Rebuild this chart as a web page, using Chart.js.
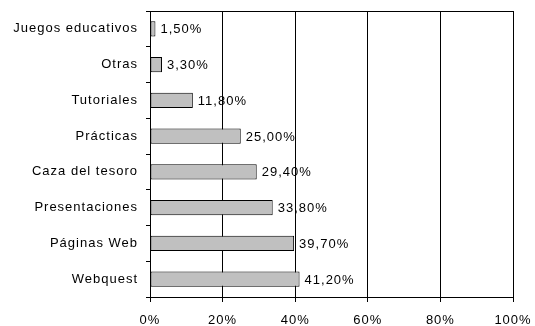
<!DOCTYPE html>
<html>
<head>
<meta charset="utf-8">
<script src="https://cdn.jsdelivr.net/npm/chart.js@4"></script>
<style>
html,body{margin:0;padding:0;background:#fff;}
#wrap{width:535px;height:326px;}
</style>
</head>
<body>
<div id="wrap"><canvas id="c" width="535" height="326"></canvas></div>
<script>
const categories = ["Juegos educativos","Otras","Tutoriales","Prácticas","Caza del tesoro","Presentaciones","Páginas Web","Webquest"];
const values = [1.5, 3.3, 11.8, 25.0, 29.4, 33.8, 39.7, 41.2];
const xTicks = [0, 20, 40, 60, 80, 100];

const FONT = "'Liberation Sans', Arial, sans-serif";

const spacingPlugin = {
  id: 'spacing',
  beforeDraw(chart) {
    const ctx = chart.ctx;
    ctx.letterSpacing = '1px';
    const meta = chart.getDatasetMeta(0);
    ctx.save();
    ctx.letterSpacing = '1px';
    ctx.fillStyle = '#000';
    ctx.font = '13px ' + FONT;
    ctx.textAlign = 'left';
    ctx.textBaseline = 'middle';
    meta.data.forEach((el, i) => {
      const txt = values[i].toFixed(2).replace('.', ',') + '%';
      ctx.fillText(txt, el.x + 5, el.y + 1);
    });
    ctx.restore();
  },
  afterDraw(chart) {
    const a = chart.chartArea;
    const ctx = chart.ctx;
    ctx.save();
    ctx.strokeStyle = '#000';
    ctx.lineWidth = 1;
    ctx.beginPath();
    ctx.moveTo(Math.round(a.left) + 0.5, Math.round(a.top) + 0.5);
    ctx.lineTo(Math.round(a.right) + 0.5, Math.round(a.top) + 0.5);
    ctx.stroke();
    ctx.restore();
  }
};

new Chart(document.getElementById('c'), {
  type: 'bar',
  data: {
    labels: categories,
    datasets: [{
      data: values,
      backgroundColor: '#c0c0c0',
      borderColor: '#000',
      borderWidth: 1,
      borderSkipped: false,
      barPercentage: 0.43,
      categoryPercentage: 1.0
    }]
  },
  options: {
    indexAxis: 'y',
    responsive: false,
    animation: false,
    devicePixelRatio: 1,
    layout: { padding: { top: 11, right: 22, left: 0, bottom: 0 } },
    plugins: { legend: { display: false }, tooltip: { enabled: false } },
    scales: {
      x: {
        type: 'linear',
        min: 0, max: 100,
        afterBuildTicks(scale) { scale.ticks = xTicks.map(v => ({ value: v })); },
        afterFit(scale) { scale.height = 29; scale.paddingLeft = 0; scale.paddingRight = 0; },
        grid: { color: '#000', lineWidth: 1, tickLength: 5, drawTicks: true },
        border: { color: '#000', width: 1 },
        ticks: {
          color: '#000',
          font: { family: FONT, size: 13 },
          padding: 11,
          maxRotation: 0,
          callback: v => v + '%'
        }
      },
      y: {
        type: 'category',
        afterFit(scale) { scale.width = 150; scale.paddingTop = 0; scale.paddingBottom = 0; },
        grid: { display: true, drawOnChartArea: false, drawTicks: true, tickLength: 4, color: '#000', offset: true },
        border: { color: '#000', width: 1 },
        ticks: {
          color: '#000',
          font: { family: FONT, size: 13 },
          padding: 8
        }
      }
    }
  },
  plugins: [spacingPlugin]
});
</script>
</body>
</html>
